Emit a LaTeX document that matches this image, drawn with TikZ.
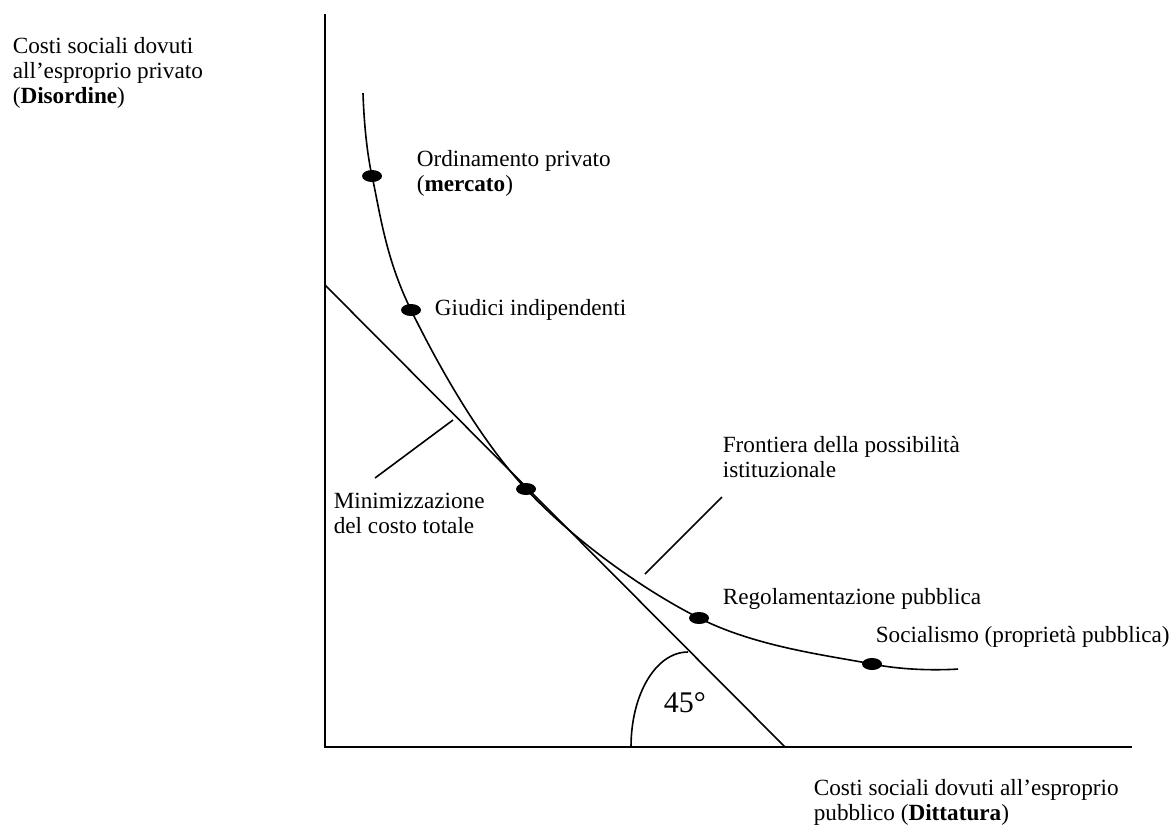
\documentclass[tikz,border=0pt]{standalone}
\usepackage{fontspec}
\setmainfont{Liberation Serif}
\usetikzlibrary{shapes.geometric}
\begin{document}
\begin{tikzpicture}[x=0.5pt,y=-0.5pt,
  dot/.style={ellipse, minimum width=10pt, minimum height=6pt, inner sep=0, fill},
  lbl/.style={anchor=base west, inner sep=0, align=left, font=\fontsize{11.6}{12.5}\selectfont},
  every path/.style={line width=0.8pt}]
\useasboundingbox (0,0) rectangle (1170,832);
% axes
\coordinate (o) at (325,747);
\coordinate (ytop) at (325,14);
\coordinate (xend) at (1132,747);
\draw[](ytop) -- (o) -- (xend);
% frontier
\draw plot[smooth, tension=0.6] coordinates {(363,93) (372,176) (411,310) (526,489) (699,618) (872,664) (958,669)};
\node[dot] (inst0) at (372,176){};
\node[dot] (inst1) at (411,310){};
\node[dot] (inst2) at (526,489){};
\node[dot] (inst3) at (699,618){};
\node[dot] (inst4) at (872,664){};
% total cost line and angle
\coordinate (tl) at (325,285);
\coordinate (tr) at (785,747);
\draw[](tl) -- (tr);
\coordinate (a0) at (631,747);
\coordinate (a1) at (688,652);
\draw[](a0) .. controls (631,694) and (656,652) .. (a1);
\node[anchor=base west, inner sep=0, font=\fontsize{15}{18}\selectfont] (ang) at (663,712) {45°};
% labels (anchored at the last baseline)
\node[lbl] (ylab) at (12,103) {Costi sociali dovuti\\all’esproprio privato\\(\textbf{Disordine})};
\node[lbl] (xlab) at (813,820) {Costi sociali dovuti all’esproprio\\pubblico (\textbf{Dittatura})};
\node[lbl] (l0) at (416,191) {Ordinamento privato\\(\textbf{mercato})};
\node[lbl] (l1) at (434,315) {Giudici indipendenti};
\node[lbl] (l3) at (722,604) {Regolamentazione pubblica};
\node[lbl] (l4) at (875,642) {Socialismo (proprietà pubblica)};
\node[lbl] (mlab) at (333,533) {Minimizzazione\\del costo totale};
\node[lbl] (flab) at (722,477) {Frontiera della possibilità\\istituzionale};
% leaders
\coordinate (m0) at (375,478);
\coordinate (m1) at (453,420);
\draw[](m0) -- (m1);
\coordinate (f0) at (645,574);
\coordinate (f1) at (722,497);
\draw[](f0) -- (f1);
\end{tikzpicture}
\end{document}
